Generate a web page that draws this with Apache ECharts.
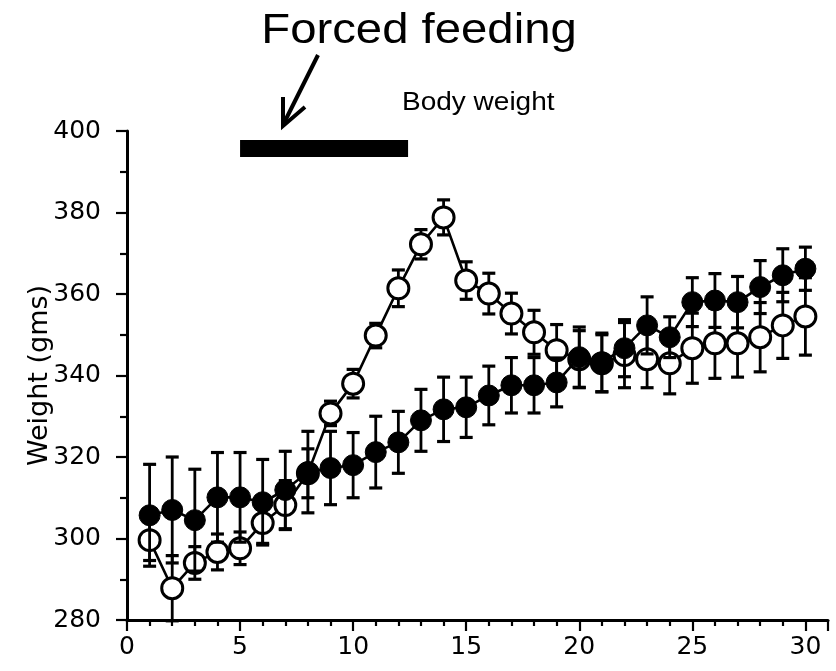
<!DOCTYPE html>
<html>
<head>
<meta charset="utf-8">
<script src="https://cdn.jsdelivr.net/npm/echarts@6/dist/echarts.min.js"></script>
<style>
  html, body { margin: 0; padding: 0; background: #fff; }
  #chart { width: 836px; height: 671px; }
</style>
</head>
<body>
<div id="chart"></div>
<script>
// days 1..30
const days = [1,2,3,4,5,6,7,8,9,10,11,12,13,14,15,16,17,18,19,20,21,22,23,24,25,26,27,28,29,30];

// filled circles (control)
const controlMean = [305.7, 307.0, 304.5, 310.1, 310.1, 308.9, 311.9, 316.3, 317.3, 318.0, 321.2, 323.6, 329.0, 331.7, 332.2,
                     335.1, 337.6, 337.6, 338.3, 344.5, 343.2, 346.7, 352.3, 349.4, 358.0, 358.4, 358.0, 361.7, 364.6, 366.2];
const controlErr = [12.5, 13.0, 12.5, 11.0, 11.0, 10.5, 9.5, 10.0, 9.0, 8.0, 8.8, 7.6, 7.6, 7.9, 7.4,
                    7.2, 6.8, 6.8, 6.0, 7.4, 7.2, 7.0, 7.0, 5.0, 6.0, 6.6, 6.3, 6.5, 6.5, 5.3];

// open circles (forced feeding)
const forcedMean = [299.6, 287.8, 294.0, 296.7, 297.6, 303.8, 308.2, 316.0, 330.7, 338.0, 349.8, 361.4, 372.2, 378.8, 363.3,
                    360.1, 355.2, 350.6, 346.2, 344.0, 343.0, 345.0, 344.0, 343.0, 346.7, 347.9, 347.9, 349.4, 352.3, 354.5];
const forcedErr = [5, 8, 4, 4.4, 4, 5, 6, 6, 3, 3.5, 3, 4.5, 3.6, 4.3, 4.6,
                   5, 5, 5.4, 6.3, 7, 7, 8, 7, 7.5, 8.6, 8.6, 8.3, 8.5, 8.1, 9.5];

// forced feeding period bar
const feedPeriod = [5, 12.43];
const feedLevel = 395.7;

const yTicks = [280, 300, 320, 340, 360, 380, 400];
const xTicks = [0, 5, 10, 15, 20, 25, 30];

const pairs = (xs, ys) => xs.map((x, i) => [x, ys[i]]);
const errData = (xs, ys, es) => xs.map((x, i) => [x, ys[i] - es[i], ys[i] + es[i]]);

// error bar with caps
function renderErr(params, api) {
  const lo = api.coord([api.value(0), api.value(1)]);
  const hi = api.coord([api.value(0), api.value(2)]);
  const half = 6.5;
  const capStyle = { stroke: '#000', lineWidth: 3.2 };
  return {
    type: 'group',
    children: [
      { type: 'line', shape: { x1: lo[0], y1: lo[1], x2: hi[0], y2: hi[1] }, style: { stroke: '#000', lineWidth: 2.8 } },
      { type: 'line', shape: { x1: lo[0] - half, y1: lo[1], x2: lo[0] + half, y2: lo[1] }, style: capStyle },
      { type: 'line', shape: { x1: hi[0] - half, y1: hi[1], x2: hi[0] + half, y2: hi[1] }, style: capStyle }
    ]
  };
}

const chart = echarts.init(document.getElementById('chart'));

const option = {
  animation: false,
  backgroundColor: '#fff',
  grid: { left: 127, right: 8, top: 131, bottom: 51 },
  xAxis: {
    type: 'value',
    min: 0,
    max: 31,
    interval: 5,
    splitLine: { show: false },
    axisLine: { onZero: false, lineStyle: { color: '#000', width: 3 } },
    axisTick: { length: 11, lineStyle: { color: '#000', width: 2.2 } },
    minorTick: { show: true, splitNumber: 5, length: 6, lineStyle: { color: '#000', width: 2.2 } },
    axisLabel: {
      margin: 15,
      color: '#000',
      fontFamily: 'DejaVu Sans',
      fontSize: 25,
      formatter: v => xTicks.includes(v) ? String(v) : ''
    }
  },
  yAxis: {
    type: 'value',
    min: yTicks[0],
    max: yTicks[yTicks.length - 1],
    interval: 20,
    name: 'Weight (gms)',
    nameLocation: 'middle',
    nameGap: 74,
    nameMoveOverlap: false,
    nameTextStyle: { color: '#000', fontFamily: 'DejaVu Sans', fontSize: 27 },
    splitLine: { show: false },
    axisLine: { lineStyle: { color: '#000', width: 3 } },
    axisTick: { length: 11, lineStyle: { color: '#000', width: 2.2 } },
    minorTick: { show: true, splitNumber: 2, length: 7, lineStyle: { color: '#000', width: 2.2 } },
    axisLabel: { margin: 26, color: '#000', fontFamily: 'DejaVu Sans', fontSize: 25 }
  },
  graphic: [
    {
      type: 'text', x: 419, y: 31, scaleX: 1.1,
      style: { text: 'Forced feeding', fill: '#000', font: '43px "Liberation Sans"', align: 'center', verticalAlign: 'middle' }
    },
    {
      type: 'text', x: 402, y: 103, scaleX: 1.12,
      style: { text: 'Body weight', fill: '#000', font: '25px "Liberation Sans"', align: 'left', verticalAlign: 'middle' }
    },
    {
      type: 'polyline',
      shape: { points: [[318, 55], [284, 123]] },
      style: { stroke: '#000', lineWidth: 4, fill: null }
    },
    {
      type: 'polyline',
      shape: { points: [[283, 97], [283, 126], [305, 107]] },
      style: { stroke: '#000', lineWidth: 4, fill: null }
    }
  ],
  series: [
    {
      name: 'feeding period',
      type: 'line',
      data: feedPeriod.map(x => [x, feedLevel]),
      symbol: 'none',
      lineStyle: { color: '#000', width: 17, cap: 'butt' },
      z: 2
    },
    {
      name: 'forced err',
      type: 'custom',
      renderItem: renderErr,
      data: errData(days, forcedMean, forcedErr),
      z: 3
    },
    {
      name: 'forced',
      type: 'line',
      data: pairs(days, forcedMean),
      symbol: 'circle',
      symbolSize: 21,
      lineStyle: { color: '#000', width: 2.6 },
      itemStyle: { color: '#fff', borderColor: '#000', borderWidth: 3 },
      z: 4
    },
    {
      name: 'control err',
      type: 'custom',
      renderItem: renderErr,
      data: errData(days, controlMean, controlErr),
      z: 5
    },
    {
      name: 'control',
      type: 'line',
      data: pairs(days, controlMean),
      symbol: 'circle',
      symbolSize: 21,
      lineStyle: { color: '#000', width: 2.6 },
      itemStyle: { color: '#000', borderColor: '#000', borderWidth: 1 },
      z: 6
    }
  ]
};

chart.setOption(option);
</script>
</body>
</html>
